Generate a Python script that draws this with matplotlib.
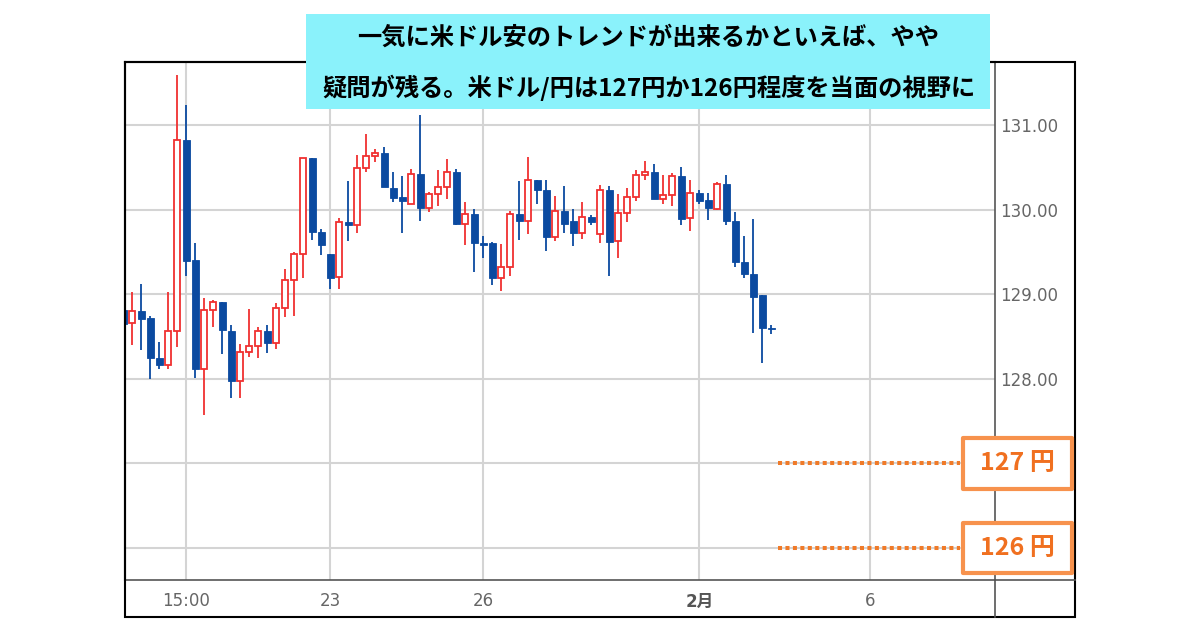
import numpy as np
import matplotlib
matplotlib.use("Agg")
import matplotlib.pyplot as plt
from matplotlib.patches import Rectangle
from matplotlib.lines import Line2D
from matplotlib.transforms import blended_transform_factory

plt.rcParams['font.family'] = ['Noto Sans CJK JP', 'DejaVu Sans']

#%% data
opens = [128.82, 128.66, 128.80, 128.72, 128.25, 128.16, 128.57, 130.83, 129.41, 128.12,
         128.82, 128.91, 128.57, 127.98, 128.32, 128.39, 128.57, 128.42, 128.84, 129.17,
         129.48, 130.61, 129.74, 129.48, 129.21, 129.86, 129.82, 130.50, 130.64, 130.68,
         130.26, 130.15, 130.07, 130.43, 130.02, 130.19, 130.27, 130.45, 129.84, 129.95,
         129.61, 129.61, 129.20, 129.33, 129.95, 129.87, 130.35, 130.24, 129.68, 129.99,
         129.87, 129.73, 129.92, 129.72, 130.24, 129.63, 129.97, 130.15, 130.41, 130.45,
         130.13, 130.18, 130.40, 129.90, 130.20, 130.12, 130.01, 130.31, 129.87, 129.39,
         129.24, 128.99, 128.60]
highs = [128.90, 129.03, 129.12, 128.74, 128.44, 129.03, 131.60, 131.24, 129.61, 128.96,
         128.94, 128.91, 128.64, 128.41, 128.83, 128.62, 128.64, 128.90, 129.30, 129.50,
         130.61, 130.61, 129.78, 129.48, 129.90, 130.34, 130.65, 130.90, 130.72, 130.74,
         130.45, 130.40, 130.49, 131.12, 130.21, 130.47, 130.60, 130.49, 130.10, 130.01,
         129.69, 129.62, 129.60, 129.99, 130.34, 130.63, 130.35, 130.35, 130.17, 130.28,
         130.01, 130.09, 129.94, 130.30, 130.28, 130.19, 130.26, 130.47, 130.58, 130.54,
         130.42, 130.44, 130.51, 130.36, 130.24, 130.20, 130.33, 130.42, 129.98, 129.69,
         129.89, 128.99, 128.64]
lows = [128.55, 128.40, 128.34, 128.00, 128.12, 128.12, 128.38, 129.22, 128.01, 127.57,
        128.62, 128.30, 127.78, 127.78, 128.26, 128.25, 128.31, 128.36, 128.73, 128.74,
        129.20, 129.65, 129.47, 129.07, 129.06, 129.63, 129.73, 130.45, 130.57, 130.27,
        130.09, 129.73, 130.07, 129.87, 129.98, 130.05, 130.13, 129.82, 129.58, 129.27,
        129.43, 129.11, 129.04, 129.22, 129.65, 129.72, 130.07, 129.52, 129.63, 129.73,
        129.57, 129.66, 129.82, 129.61, 129.22, 129.43, 129.86, 130.11, 130.35, 130.13,
        130.07, 130.05, 129.82, 129.75, 130.07, 129.88, 130.00, 129.82, 129.33, 129.20,
        128.55, 128.19, 128.53]
closes = [128.65, 128.80, 128.71, 128.25, 128.16, 128.57, 130.83, 129.40, 128.12, 128.82,
          128.91, 128.58, 127.98, 128.32, 128.39, 128.57, 128.42, 128.84, 129.17, 129.48,
          130.61, 129.74, 129.58, 129.20, 129.86, 129.82, 130.50, 130.64, 130.68, 130.27,
          130.14, 130.11, 130.43, 130.02, 130.19, 130.27, 130.45, 129.83, 129.95, 129.61,
          129.59, 129.20, 129.33, 129.95, 129.87, 130.35, 130.24, 129.68, 129.99, 129.84,
          129.73, 129.92, 129.86, 130.24, 129.62, 129.97, 130.15, 130.41, 130.45, 130.13,
          130.18, 130.40, 129.89, 130.20, 130.11, 130.02, 130.31, 129.87, 129.38, 129.24,
          128.97, 128.60, 128.59]

tick_pos = [7, 23, 40, 64, 83]
tick_labels = ['15:00', '23', '26', '2月', '6']
price_ticks = [126, 127, 128, 129, 130, 131]
levels = [127, 126]
level_labels = ['127 円', '126 円']
headline = ['一気に米ドル安のトレンドが出来るかといえば、やや',
            '疑問が残る。米ドル/円は127円か126円程度を当面の視野に']

#%% layout helpers (pixel -> figure fraction)
W, H = 1200, 630
def fx(px):
    return px / W
def fy(py):
    return 1 - py / H

fig = plt.figure(figsize=(12, 6.3), dpi=100)
ax = fig.add_axes([fx(125), fy(580), fx(995) - fx(125), fy(62) - fy(580)])

blue = '#0b4aa0'
red = '#f03030'

o = np.array(opens)
h = np.array(highs)
l = np.array(lows)
c = np.array(closes)
x = np.arange(len(o))
up = c >= o

# wicks
ax.vlines(x[up], l[up], h[up], color=red, lw=1.3, zorder=2)
ax.vlines(x[~up], l[~up], h[~up], color=blue, lw=1.3, zorder=2)
# bodies
ax.bar(x[up], np.maximum(c - o, 0.01)[up], bottom=o[up], width=0.64,
       facecolor='white', edgecolor=red, lw=1.3, zorder=3)
ax.bar(x[~up], np.maximum(o - c, 0.01)[~up], bottom=c[~up], width=0.74,
       facecolor=blue, edgecolor=blue, lw=0.6, zorder=3)

ax.set_xlim(0.19, 96.86)
ax.set_ylim(125.621, 131.7515)

ax.set_xticks(tick_pos)
ax.set_xticklabels(tick_labels)
ax.set_yticks(price_ticks)
# the 126/127 labels sit under the orange boxes, so leave them blank
ax.set_yticklabels(['' if p in levels else '%.2f' % p for p in price_ticks])
ax.yaxis.tick_right()
ax.grid(color='#d4d4d4', lw=1.5, zorder=0)
ax.set_axisbelow(True)
ax.tick_params(axis='both', length=0, labelsize=12, labelcolor='#666666')
ax.tick_params(axis='x', pad=9)
ax.tick_params(axis='y', pad=4)
for lbl in ax.get_xticklabels() + ax.get_yticklabels():
    lbl.set_family(['DejaVu Sans', 'Noto Sans CJK JP'])
ax.get_xticklabels()[3].set_fontweight('bold')
ax.get_xticklabels()[3].set_color('#555555')

for side in ['left', 'top']:
    ax.spines[side].set_color('black')
    ax.spines[side].set_linewidth(1.5)
for side in ['right', 'bottom']:
    ax.spines[side].set_color('#555555')
    ax.spines[side].set_linewidth(1.2)

# target levels: dotted lines
for lvl in levels:
    ax.axhline(lvl, xmin=(778 - 125) / 870, xmax=(960 - 125) / 870,
               color='#f07a28', lw=2.9, linestyle=(0, (1, 0.85)), zorder=4)

# outer frame and axis extensions
fig.add_artist(Rectangle((fx(125), fy(617)), fx(1075) - fx(125), fy(62) - fy(617),
                         transform=fig.transFigure, fill=False, ec='black', lw=1.5, zorder=4))
fig.add_artist(Line2D([fx(995), fx(995)], [fy(580), fy(617)], transform=fig.transFigure,
                      color='#555555', lw=1.2, zorder=4))
fig.add_artist(Line2D([fx(995), fx(1075)], [fy(580), fy(580)], transform=fig.transFigure,
                      color='#555555', lw=1.2, zorder=4))

# level boxes
trans = blended_transform_factory(fig.transFigure, ax.transData)
for lvl, lab in zip(levels, level_labels):
    fig.add_artist(Rectangle((fx(962.5), lvl - 0.30), fx(1071.5) - fx(962.5), 0.60,
                             transform=trans, fc='white', ec='#f7924d', lw=3,
                             joinstyle='round', clip_on=False, zorder=6))
    fig.text(fx(1017), lvl, lab, transform=trans, ha='center', va='center',
             fontsize=18, fontweight='bold', color='#f07020', zorder=7)

# headline box
fig.add_artist(Rectangle((fx(306), fy(109)), fx(990) - fx(306), fy(14) - fy(109),
                         transform=fig.transFigure, fc='#8af2fb', ec='none', zorder=5))
fig.text(fx(648), fy(38), headline[0], ha='center', va='center',
         fontsize=17.5, fontweight='bold', color='black', zorder=7)
fig.text(fx(649), fy(88), headline[1], ha='center', va='center',
         fontsize=17.5, fontweight='bold', color='black', zorder=7)

fig.savefig('out.png', dpi=100)
